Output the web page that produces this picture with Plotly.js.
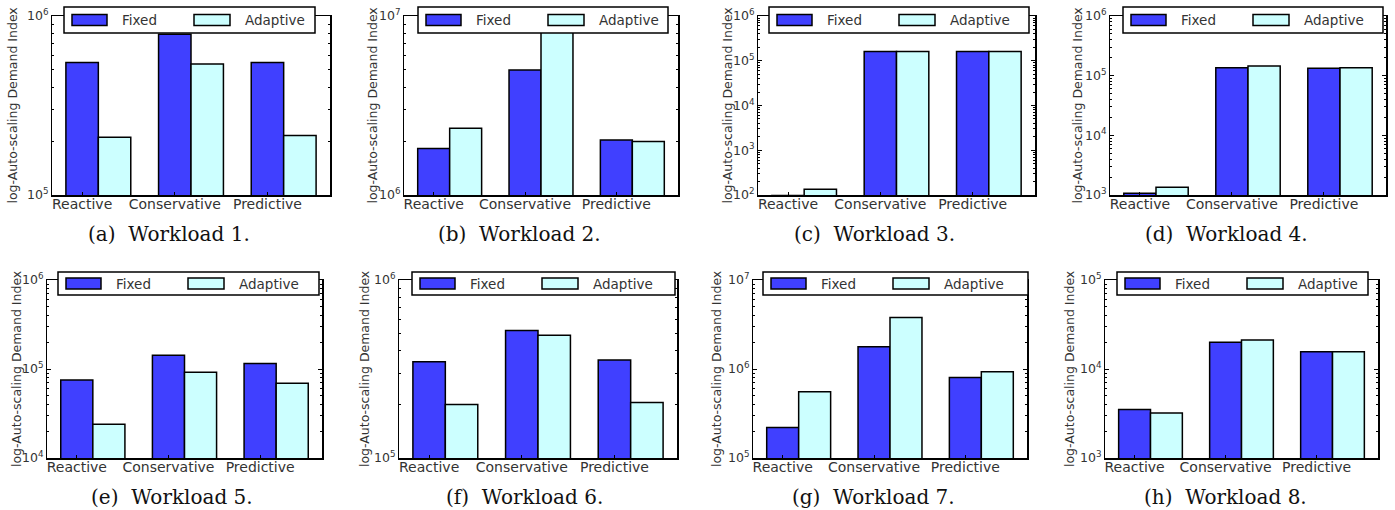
<!DOCTYPE html>
<html><head><meta charset="utf-8">
<script src="https://cdn.plot.ly/plotly-3.0.1.min.js"></script>
<style>html,body{margin:0;padding:0;background:#fff}#chart{width:1395px;height:510px}</style>
</head><body><div id="chart"></div>
<script>
// ---- data ----
const categories = ['Reactive', 'Conservative', 'Predictive'];
const seriesNames = ['Fixed', 'Adaptive'];
const captionTags = ['(a)', '(b)', '(c)', '(d)', '(e)', '(f)', '(g)', '(h)'];
const workloadNames = ['Workload 1.', 'Workload 2.', 'Workload 3.', 'Workload 4.',
                       'Workload 5.', 'Workload 6.', 'Workload 7.', 'Workload 8.'];
const yAxisTitle = 'log-Auto-scaling Demand Index';

const fixedW1 = [5.5e5, 7.9e5, 5.5e5];
const adaptiveW1 = [2.1e5, 5.4e5, 2.15e5];
const fixedW2 = [1.82e6, 5.0e6, 2.03e6];
const adaptiveW2 = [2.36e6, 8.6e6, 1.99e6];
const fixedW3 = [98, 1.6e5, 1.6e5];
const adaptiveW3 = [134, 1.6e5, 1.6e5];
const fixedW4 = [1.07e3, 1.36e5, 1.33e5];
const adaptiveW4 = [1.35e3, 1.45e5, 1.36e5];
const fixedW5 = [7.5e4, 1.43e5, 1.15e5];
const adaptiveW5 = [2.4e4, 9.2e4, 6.9e4];
const fixedW6 = [3.47e5, 5.2e5, 3.55e5];
const adaptiveW6 = [2.0e5, 4.9e5, 2.05e5];
const fixedW7 = [2.2e5, 1.78e6, 8.0e5];
const adaptiveW7 = [5.55e5, 3.8e6, 9.3e5];
const fixedW8 = [3.5e3, 2.0e4, 1.56e4];
const adaptiveW8 = [3.2e3, 2.12e4, 1.56e4];

// log10 axis limits per workload
const yExpMin = [5, 6, 2, 3, 4, 5, 5, 3];
const yExpMax = [6, 7, 6, 6, 6, 6, 7, 5];

const fixedAll = [fixedW1, fixedW2, fixedW3, fixedW4, fixedW5, fixedW6, fixedW7, fixedW8];
const adaptiveAll = [adaptiveW1, adaptiveW2, adaptiveW3, adaptiveW4, adaptiveW5, adaptiveW6, adaptiveW7, adaptiveW8];

// ---- layout geometry (pixels) ----
const W = 1395, H = 510;
const panels = [
  {l: 52,   r: 330,  t: 16,  b: 195, lg: [64, 315, 7, 33],     yt: 12,   cap: 169,  capY: 234},
  {l: 404,  r: 678,  t: 16,  b: 195, lg: [418, 668, 7, 33],    yt: 372,  cap: 519,  capY: 234},
  {l: 758,  r: 1035, t: 16,  b: 195, lg: [769, 1029, 7, 33],   yt: 727,  cap: 874,  capY: 234},
  {l: 1110, r: 1386, t: 16,  b: 195, lg: [1123, 1383, 7, 33],  yt: 1077, cap: 1226, capY: 234},
  {l: 47,   r: 322,  t: 280, b: 458, lg: [58, 319, 272, 295],  yt: 16,   cap: 172,  capY: 497},
  {l: 399,  r: 677,  t: 280, b: 458, lg: [412, 675, 272, 295], yt: 364,  cap: 524,  capY: 497},
  {l: 753,  r: 1027, t: 280, b: 458, lg: [763, 1028, 272, 295],yt: 716,  cap: 873,  capY: 497},
  {l: 1105, r: 1378, t: 280, b: 458, lg: [1117, 1368, 272, 295],yt: 1069, cap: 1225, capY: 497}
];
const px = x => x / W;
const py = y => 1 - y / H;

const BW = 0.35;
const fixedColor = '#4040ff';
const adaptiveColor = '#ccffff';
const sansFont = 'DejaVu Sans, sans-serif';

const traces = [];
const layout = {
  width: W, height: H,
  margin: {l: 0, r: 0, t: 0, b: 0},
  paper_bgcolor: '#fff', plot_bgcolor: '#fff',
  showlegend: false,
  barmode: 'overlay',
  shapes: [], annotations: []
};

panels.forEach((p, i) => {
  const n = i === 0 ? '' : String(i + 1);
  traces.push({
    type: 'bar', name: seriesNames[0], x: categories, y: fixedAll[i],
    xaxis: 'x' + n, yaxis: 'y' + n, offset: -BW / 2, width: BW,
    marker: {color: fixedColor, line: {color: '#000', width: 1.5}}
  });
  traces.push({
    type: 'bar', name: seriesNames[1], x: categories, y: adaptiveAll[i],
    xaxis: 'x' + n, yaxis: 'y' + n, offset: BW / 2, width: BW,
    marker: {color: adaptiveColor, line: {color: '#000', width: 1.5}}
  });
  layout['xaxis' + n] = {
    domain: [px(p.l), px(p.r)], anchor: 'y' + n,
    type: 'category', range: [-0.325, 2.675],
    showline: true, linecolor: '#000', linewidth: 1.5, mirror: 'allticks',
    ticks: 'inside', ticklen: 3, tickcolor: '#000', tickwidth: 1,
    ticklabelstandoff: -4,
    showgrid: false, zeroline: false,
    tickfont: {family: sansFont, size: 14, color: '#333'}
  };
  layout['yaxis' + n] = {
    domain: [py(p.b), py(p.t)], anchor: 'x' + n,
    type: 'log', range: [yExpMin[i], yExpMax[i]], dtick: 1,
    exponentformat: 'power',
    showline: true, linecolor: '#000', linewidth: 1.5, mirror: 'allticks',
    ticks: 'inside', ticklen: 4, tickcolor: '#000', tickwidth: 1,
    minor: {ticks: 'inside', ticklen: 2, dtick: 'D1', tickcolor: '#000', tickwidth: 1, showgrid: false},
    showgrid: false, zeroline: false,
    tickfont: {family: sansFont, size: 10, color: '#333'}
  };
  // legend box
  const [lx0, lx1, ly0, ly1] = p.lg;
  const lyc = (ly0 + ly1) / 2;
  layout.shapes.push({type: 'rect', xref: 'paper', yref: 'paper', layer: 'above',
    x0: px(lx0), x1: px(lx1), y0: py(ly1), y1: py(ly0),
    fillcolor: '#fff', line: {color: '#000', width: 1.5}});
  layout.shapes.push({type: 'rect', xref: 'paper', yref: 'paper', layer: 'above',
    x0: px(lx0 + 8), x1: px(lx0 + 43), y0: py(lyc + 5.5), y1: py(lyc - 5.5),
    fillcolor: fixedColor, line: {color: '#000', width: 1.5}});
  layout.shapes.push({type: 'rect', xref: 'paper', yref: 'paper', layer: 'above',
    x0: px(lx0 + 130), x1: px(lx0 + 166), y0: py(lyc + 5.5), y1: py(lyc - 5.5),
    fillcolor: adaptiveColor, line: {color: '#000', width: 1.5}});
  layout.annotations.push({text: seriesNames[0], xref: 'paper', yref: 'paper',
    x: px(lx0 + 56), y: py(lyc), xanchor: 'left', yanchor: 'middle', showarrow: false,
    font: {family: sansFont, size: 13.5, color: '#333'}});
  layout.annotations.push({text: seriesNames[1], xref: 'paper', yref: 'paper',
    x: px(lx0 + 179), y: py(lyc), xanchor: 'left', yanchor: 'middle', showarrow: false,
    font: {family: sansFont, size: 13.5, color: '#333'}});
  // y-axis title
  layout.annotations.push({text: yAxisTitle, xref: 'paper', yref: 'paper',
    x: px(p.yt), y: py((p.t + p.b) / 2), xanchor: 'center', yanchor: 'middle',
    textangle: -90, showarrow: false,
    font: {family: sansFont, size: 12.5, color: '#333'}});
  // caption
  layout.annotations.push({text: captionTags[i] + '\u00a0\u00a0' + workloadNames[i],
    xref: 'paper', yref: 'paper', x: px(p.cap), y: py(p.capY),
    xanchor: 'center', yanchor: 'middle', showarrow: false,
    font: {family: 'DejaVu Serif, serif', size: 20, color: '#111'}});
});

Plotly.newPlot('chart', traces, layout, {displayModeBar: false, staticPlot: true});
</script></body></html>
